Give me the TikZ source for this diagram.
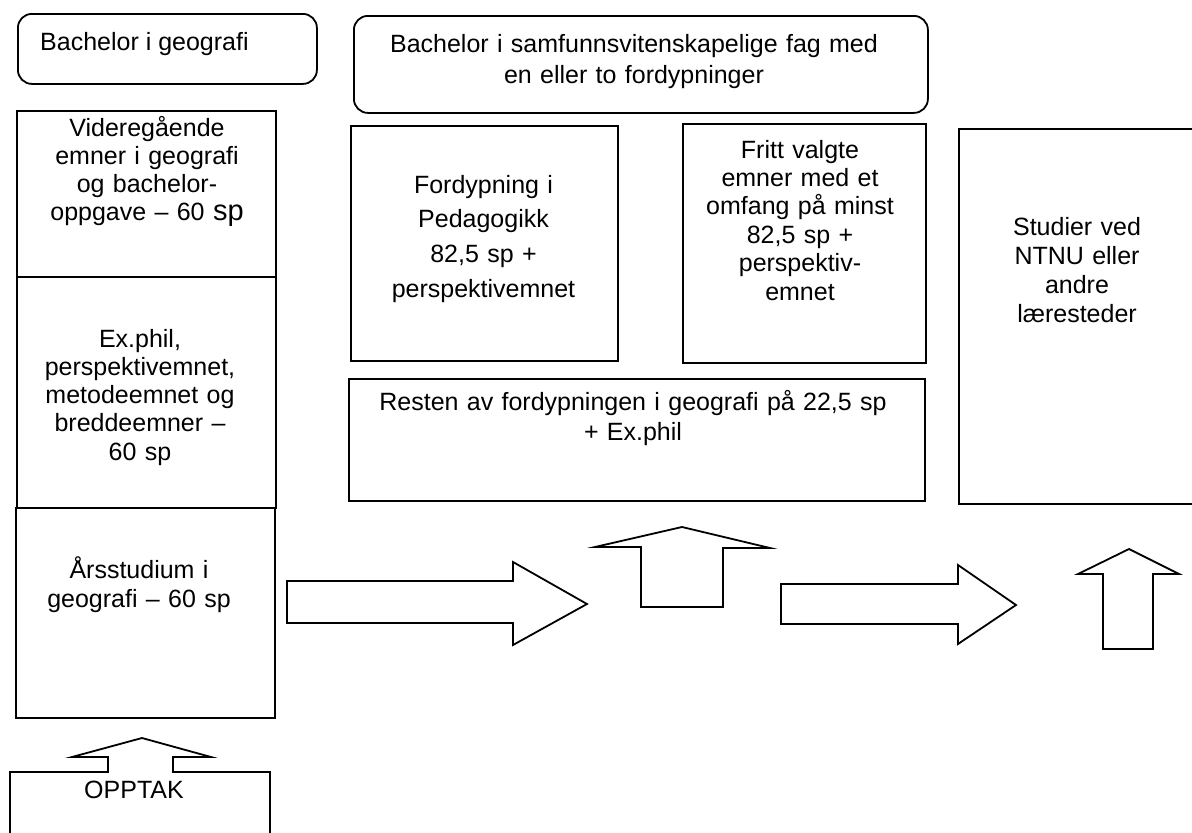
\documentclass[tikz,border=0pt]{standalone}
\usepackage{fontspec}
\setmainfont{Liberation Sans}
\begin{document}
\begin{tikzpicture}[x=1pt,y=-1pt,
  box/.style={draw, line width=1.8pt, rectangle, inner sep=0pt, anchor=north west},
  rbox/.style={box, rounded corners=14pt},
  txt/.style={inner sep=0pt, anchor=base, align=center, text width=#1, font=\fontsize{25}{28.3}\selectfont},
  txt/.default=250pt,
  blockarrow/.style={draw, line width=1.8pt, fill=white, line join=miter}
]
\useasboundingbox (0,0) rectangle (1192,833);
\clip (0,0) rectangle (1192,833);

% top rounded headers
\node[rbox, minimum width=299pt, minimum height=70pt] (bgeo) at (17,13) {};
\node[inner sep=0pt, anchor=base west, font=\fontsize{25}{28}\selectfont] (bgeo-t) at (40,50) {Bachelor i geografi};

\node[rbox, minimum width=574pt, minimum height=97pt] (bsam) at (353,15) {};
\node[txt=560pt, font=\fontsize{25}{31}\selectfont] (bsam-t) at (634,52) {Bachelor i samfunnsvitenskapelige fag med\\en eller to fordypninger};

% left column
\node[box, minimum width=259pt, minimum height=166pt] (vg) at (16,110) {};
\node[box, minimum width=259pt, minimum height=231pt] (ex) at (16,276) {};
\node[box, minimum width=259pt, minimum height=210pt] (ar) at (15,507) {};
\node[txt=250pt] (vg-t) at (147,136) {Videregående\\emner i geografi\\og bachelor-\\oppgave \textendash{} 60 {\fontsize{29}{28.3}\selectfont sp}};
\node[txt=250pt, font=\fontsize{25}{28.25}\selectfont] (ex-t) at (140,347) {Ex.phil,\\perspektivemnet,\\metodeemnet og\\breddeemner \textendash\\60 sp};
\node[txt=250pt, font=\fontsize{25}{29}\selectfont] (ar-t) at (139,578) {Årsstudium i\\geografi \textendash{} 60 sp};

% middle boxes
\node[box, minimum width=267pt, minimum height=235pt] (ped) at (350,125) {};
\node[txt=260pt, font=\fontsize{25}{34.7}\selectfont] (ped-t) at (483.5,193) {Fordypning i\\Pedagogikk\\82,5 sp +\\perspektivemnet};

\node[box, minimum width=243pt, minimum height=239pt] (fri) at (682,123) {};
\node[txt=240pt, font=\fontsize{25}{28.4}\selectfont] (fri-t) at (800,158) {Fritt valgte\\emner med et\\omfang på minst\\82,5 sp +\\perspektiv-\\emnet};

\node[box, minimum width=576pt, minimum height=122pt] (res) at (348,378) {};
\node[txt=570pt, font=\fontsize{25}{30}\selectfont] (res-t) at (633,410) {Resten av fordypningen i geografi på 22,5 sp\\+ Ex.phil};

\node[box, minimum width=260pt, minimum height=375pt] (stu) at (958,128) {};
\node[txt=220pt, font=\fontsize{25}{29}\selectfont] (stu-t) at (1077,235) {Studier ved\\NTNU eller\\andre\\læresteder};

% block arrows
\draw[blockarrow] (287,581) -- (513,581) -- (513,562) -- (587,604) -- (513,645) -- (513,623) -- (287,623) -- cycle;
\draw[blockarrow] (641,607) -- (641,547) -- (595,547) -- (682,527) -- (770,548) -- (723,548) -- (723,607) -- cycle;
\draw[blockarrow] (781,584) -- (958,584) -- (958,565) -- (1016,605) -- (958,644) -- (958,624) -- (781,624) -- cycle;
\draw[blockarrow] (1103,649) -- (1103,574) -- (1078,574) -- (1129,549) -- (1179,574) -- (1153,574) -- (1153,649) -- cycle;

% OPPTAK
\draw[blockarrow] (10,845) -- (10,772) -- (108,772) -- (108,757) -- (72,757) -- (142,738) -- (211,757) -- (173,757) -- (173,772) -- (270,772) -- (270,845);
\node[inner sep=0pt, anchor=base, font=\fontsize{25}{28}\selectfont] (opp) at (134,798) {OPPTAK};
\end{tikzpicture}
\end{document}
